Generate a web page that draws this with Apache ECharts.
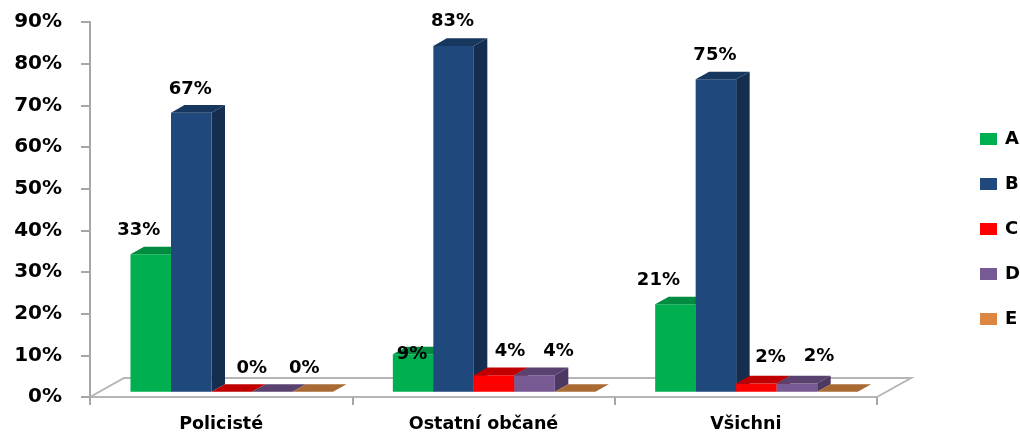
<!DOCTYPE html>
<html><head><meta charset="utf-8">
<style>html,body{margin:0;padding:0;background:#fff}#c{width:1020px;height:434px}</style>
<script src="https://cdn.jsdelivr.net/npm/echarts@6/dist/echarts.min.js"></script>
</head><body><div id="c"></div>
<script>
const categories = ['Policisté', 'Ostatní občané', 'Všichni'];
const seriesNames = ['A', 'B', 'C', 'D', 'E'];
const A = [33, 9, 21];
const B = [67, 83, 75];
const C = [0, 4, 2];
const D = [0, 4, 2];
const E = [0, 0, 0];
const yTicks = [0, 10, 20, 30, 40, 50, 60, 70, 80, 90];

const values = [A, B, C, D, E];
const FONT = '"DejaVu Sans", sans-serif';
const front = ['#00b050', '#1f497d', '#ff0000', '#775a93', '#dd8642'];
const topFace = ['#008c40', '#17375e', '#c00000', '#5a4270', '#a96a33'];
const sideFace = ['#006f32', '#152e50', '#a80000', '#4c3860', '#8f5a2c'];
// Hand placement of the value labels relative to the bar's centre, per series and category
const labelDx = [[-12, -1, -17], [-1, -1, -1], [20, 16, 14], [32, 24, 22], null];
const labelGap = [[24, 0, 24], [23, 25, 24], [0, 24, 26], [0, 24, 27], null];

const BAR = 40.5, DX = 13.5, DY = 7.6, START = 40.5, LIFT = 5.2;

function renderBar(sIdx) {
  return function (params, api) {
    const cat = api.value(0), val = api.value(1);
    const band = api.size([1, 0])[0];
    const base = api.coord([cat, 0]);
    const bandLeft = base[0] - band / 2;
    const x = bandLeft + START + sIdx * BAR;
    const y0 = base[1] - LIFT;
    const y1 = api.coord([cat, val])[1] - LIFT;
    const children = [];
    if (val > 0) {
      children.push({ type: 'polygon', shape: { points: [[x + BAR, y0], [x + BAR + DX, y0 - DY], [x + BAR + DX, y1 - DY], [x + BAR, y1]] }, style: { fill: sideFace[sIdx] } });
      children.push({ type: 'rect', shape: { x: x, y: y1, width: BAR, height: y0 - y1 }, style: { fill: front[sIdx] } });
    }
    children.push({ type: 'polygon', shape: { points: [[x, y1], [x + BAR, y1], [x + BAR + DX, y1 - DY], [x + DX, y1 - DY]] }, style: { fill: topFace[sIdx] } });
    if (labelDx[sIdx]) {
      const gap = labelGap[sIdx][params.dataIndex];
      children.push({
        type: 'text',
        style: {
          text: val + '%', x: x + BAR / 2 + labelDx[sIdx][params.dataIndex], y: val > 0 ? y1 - gap : y1 - 23,
          align: 'center', verticalAlign: 'middle', fill: '#000', font: 'bold 18px ' + FONT
        }
      });
    }
    return { type: 'group', children: children };
  };
}

const barSeries = seriesNames.map((n, s) => ({
  name: n, type: 'custom', clip: false, z: 3 + s,
  data: categories.map((c, i) => [i, values[s][i]]),
  encode: { x: 0, y: 1 },
  itemStyle: { color: front[s] },
  renderItem: renderBar(s)
}));

const floor = {
  name: 'floor', type: 'custom', silent: true, clip: false, z: 1,
  data: [[0, 0]],
  encode: { x: 0, y: 1 },
  renderItem: function (params) {
    const r = params.coordSys, b = r.y + r.height, dx = 34, dy = 19;
    return {
      type: 'polyline',
      shape: { points: [[r.x, b], [r.x + dx, b - dy], [r.x + r.width + dx, b - dy], [r.x + r.width, b]] },
      style: { fill: null, stroke: '#b5b5b5', lineWidth: 2 }
    };
  }
};

echarts.init(document.getElementById('c')).setOption({
  animation: false,
  backgroundColor: '#fff',
  grid: { left: 90, right: 143, top: 22, height: 375, containLabel: false },
  legend: {
    data: seriesNames, orient: 'vertical', left: 975, top: 125,
    itemWidth: 17, itemHeight: 12, itemGap: 27, icon: 'rect',
    textStyle: { color: '#000', fontFamily: FONT, fontWeight: 'bold', fontSize: 18, padding: [0, 0, 0, 3] }
  },
  xAxis: {
    type: 'category', data: categories, boundaryGap: true,
    axisLine: { lineStyle: { color: '#b5b5b5', width: 2 } },
    axisTick: { show: true, length: 8, alignWithLabel: false, lineStyle: { color: '#a6a6a6', width: 2 } },
    axisLabel: { interval: 0, color: '#000', fontFamily: FONT, fontWeight: 'bold', fontSize: 17.5, margin: 18 }
  },
  yAxis: {
    type: 'value', min: 0, max: 90, interval: 10,
    splitLine: { show: false },
    axisLine: { show: true, lineStyle: { color: '#a6a6a6', width: 2 } },
    axisTick: { show: true, length: 9, lineStyle: { color: '#a6a6a6', width: 2 } },
    axisLabel: { color: '#000', fontFamily: FONT, fontWeight: 'bold', fontSize: 20, margin: 28, formatter: v => yTicks.includes(v) ? v + '%' : '' }
  },
  series: [floor].concat(barSeries)
});
</script></body></html>
